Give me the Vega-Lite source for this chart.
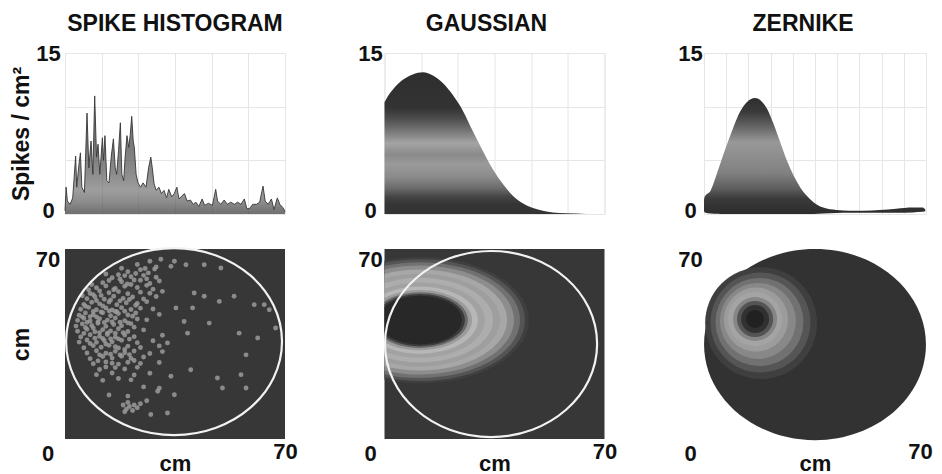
{
  "$schema": "https://vega.github.io/schema/vega-lite/v6.json",
  "padding": {"left": 10, "top": 12, "right": 8, "bottom": 0},
  "background": "white",
  "columns": 3,
  "spacing": {"row": 35, "column": 99.5},
  "bounds": "flush",
  "resolve": {"scale": {"size": "shared", "color": "shared"}},
  "datasets": {
    "spike_profile": [
      {"x":0,"v":0.3},{"x":0.3,"v":2.5},{"x":0.65,"v":1.2},{"x":1.4,"v":0.9},{"x":2.1,"v":1.5},{"x":2.9,"v":5.4},{"x":3.2,"v":2.5},{"x":3.8,"v":4.6},{"x":4.2,"v":5.7},{"x":4.6,"v":2.5},{"x":5.3,"v":2.0},{"x":6.0,"v":9.4},{"x":6.5,"v":4.3},{"x":7.1,"v":6.8},{"x":7.6,"v":3.7},{"x":8.1,"v":11.0},{"x":8.6,"v":5.3},{"x":9.0,"v":6.5},{"x":9.5,"v":3.7},{"x":10.2,"v":7.1},{"x":10.5,"v":5.0},{"x":10.9,"v":7.3},{"x":11.4,"v":3.1},{"x":12.0,"v":2.9},{"x":12.6,"v":5.3},{"x":13.2,"v":7.0},{"x":13.7,"v":4.3},{"x":14.1,"v":3.7},{"x":14.6,"v":5.9},{"x":15.1,"v":8.5},{"x":15.5,"v":3.7},{"x":16.0,"v":3.1},{"x":16.4,"v":5.3},{"x":16.9,"v":7.3},{"x":17.4,"v":6.2},{"x":17.8,"v":7.4},{"x":18.2,"v":9.1},{"x":18.6,"v":6.8},{"x":18.9,"v":6.2},{"x":19.4,"v":3.7},{"x":19.9,"v":2.9},{"x":20.6,"v":2.5},{"x":21.3,"v":2.9},{"x":22.1,"v":2.5},{"x":22.8,"v":4.3},{"x":23.4,"v":5.3},{"x":23.8,"v":4.3},{"x":24.3,"v":2.8},{"x":24.9,"v":2.2},{"x":25.6,"v":2.5},{"x":26.3,"v":1.9},{"x":27.0,"v":2.2},{"x":27.7,"v":1.5},{"x":28.3,"v":2.3},{"x":29.1,"v":1.6},{"x":29.8,"v":1.9},{"x":30.5,"v":2.5},{"x":31.1,"v":1.4},{"x":31.9,"v":1.7},{"x":32.6,"v":1.9},{"x":33.3,"v":1.2},{"x":34.2,"v":1.3},{"x":35.0,"v":0.9},{"x":35.7,"v":1.1},{"x":36.5,"v":0.7},{"x":37.4,"v":1.4},{"x":38.1,"v":0.8},{"x":39.1,"v":1.0},{"x":40.2,"v":0.8},{"x":41.1,"v":2.3},{"x":41.6,"v":1.2},{"x":42.5,"v":0.9},{"x":43.4,"v":1.3},{"x":44.3,"v":0.9},{"x":45.2,"v":1.1},{"x":46.2,"v":0.9},{"x":47.1,"v":1.1},{"x":48.0,"v":0.9},{"x":48.9,"v":1.4},{"x":49.6,"v":0.5},{"x":50.3,"v":0.5},{"x":51.2,"v":0.9},{"x":52.2,"v":0.9},{"x":53.1,"v":1.1},{"x":54.0,"v":2.6},{"x":54.6,"v":1.2},{"x":55.4,"v":0.9},{"x":56.3,"v":1.4},{"x":57.0,"v":0.4},{"x":57.9,"v":1.5},{"x":58.6,"v":0.9},{"x":59.4,"v":0.6},{"x":60,"v":0.25}
    ],
    "gauss_profile": [
      {"x":0,"v":10.4},{"x":0.45,"v":10.7},{"x":2.3,"v":11.6},{"x":5,"v":12.5},{"x":7.7,"v":13.0},{"x":10.5,"v":13.2},{"x":13.2,"v":12.9},{"x":15.9,"v":12.2},{"x":18.6,"v":11.1},{"x":21.4,"v":9.6},{"x":24.1,"v":7.7},{"x":26.8,"v":5.9},{"x":29.5,"v":4.2},{"x":32.3,"v":2.8},{"x":35,"v":1.7},{"x":37.7,"v":1.0},{"x":40.5,"v":0.56},{"x":43.2,"v":0.3},{"x":45.9,"v":0.15},{"x":49.5,"v":0.06},{"x":55,"v":0.01},{"x":60,"v":0}
    ],
    "zern_profile": [
      {"x":0,"v":1.3,"lo":0.3},{"x":0.3,"v":1.6,"lo":0.15},{"x":3,"v":2.2,"lo":0.05},{"x":6,"v":3.9,"lo":0.03},{"x":9,"v":5.7,"lo":0},{"x":12,"v":7.4,"lo":0},{"x":15,"v":9.0,"lo":0},{"x":18,"v":10.1,"lo":0},{"x":21,"v":10.7,"lo":0},{"x":23,"v":10.8,"lo":0},{"x":25.4,"v":10.6,"lo":0},{"x":28.4,"v":9.8,"lo":0},{"x":31.3,"v":8.4,"lo":0},{"x":34.3,"v":6.7,"lo":0},{"x":37.3,"v":5.0,"lo":0},{"x":40.3,"v":3.6,"lo":0},{"x":43.3,"v":2.5,"lo":0},{"x":46.3,"v":1.7,"lo":0},{"x":49.3,"v":1.1,"lo":0},{"x":53.7,"v":0.6,"lo":0.05},{"x":59.7,"v":0.37,"lo":0.1},{"x":65.7,"v":0.3,"lo":0.12},{"x":71.6,"v":0.3,"lo":0.12},{"x":79.1,"v":0.37,"lo":0.12},{"x":86.6,"v":0.5,"lo":0.12},{"x":94,"v":0.6,"lo":0.15},{"x":98.5,"v":0.6,"lo":0.2},{"x":99.7,"v":0.4,"lo":0.25}
    ],
    "spike_dots": [
      {"x":23,"y":64.3},{"x":27,"y":65.5},{"x":29,"y":63.4},{"x":30.5,"y":66.2},{"x":25.5,"y":62.8},
      {"x":20,"y":61.6},{"x":24,"y":62.4},{"x":26.5,"y":61.2},{"x":28.5,"y":62.6},{"x":18,"y":62.9},
      {"x":15,"y":59.4},{"x":17,"y":60.5},{"x":21,"y":59.8},{"x":25,"y":60.3},{"x":29,"y":59.6},{"x":13,"y":60.8},
      {"x":12,"y":57.6},{"x":14,"y":58.4},{"x":18,"y":57.9},{"x":22,"y":58.6},{"x":27,"y":57.3},{"x":30,"y":58.2},{"x":19.8,"y":57.1},
      {"x":10,"y":55.7},{"x":13,"y":56.4},{"x":16,"y":55.5},{"x":19,"y":56.3},{"x":23,"y":55.8},{"x":26,"y":56.6},{"x":28,"y":55.2},{"x":8.5,"y":56.9},
      {"x":8,"y":53.6},{"x":11,"y":54.5},{"x":14,"y":53.9},{"x":17,"y":54.3},{"x":20,"y":53.5},{"x":24,"y":54.1},{"x":27,"y":53.7},{"x":31,"y":54.4},{"x":15.5,"y":55},
      {"x":7,"y":51.7},{"x":9.5,"y":52.4},{"x":12.5,"y":51.5},{"x":15.5,"y":52.6},{"x":18.5,"y":51.8},{"x":21.5,"y":52.3},{"x":25,"y":51.6},{"x":29,"y":52.5},{"x":5.5,"y":52.8},
      {"x":6,"y":49.6},{"x":8.5,"y":50.4},{"x":11,"y":49.8},{"x":14,"y":50.5},{"x":16.5,"y":49.5},{"x":19.5,"y":50.2},{"x":23,"y":49.9},{"x":26,"y":50.6},{"x":10,"y":51},
      {"x":5,"y":47.8},{"x":7.5,"y":48.5},{"x":10,"y":47.6},{"x":13,"y":48.3},{"x":15,"y":47.5},{"x":18,"y":48.4},{"x":21,"y":47.7},{"x":24,"y":48.2},{"x":28,"y":47.9},{"x":12,"y":49},
      {"x":4.5,"y":45.6},{"x":6.5,"y":46.4},{"x":9,"y":45.8},{"x":12,"y":46.5},{"x":14.5,"y":45.4},{"x":17,"y":46.2},{"x":20,"y":45.7},{"x":22.5,"y":46.4},{"x":30,"y":45.9},{"x":16,"y":47},
      {"x":4,"y":43.7},{"x":6,"y":44.5},{"x":8,"y":43.5},{"x":11,"y":44.3},{"x":13.5,"y":43.8},{"x":16,"y":44.6},{"x":19,"y":43.6},{"x":23,"y":44.2},{"x":26,"y":43.9},{"x":10,"y":45},
      {"x":3.5,"y":41.6},{"x":5.5,"y":42.4},{"x":8.5,"y":41.8},{"x":10.5,"y":42.6},{"x":13,"y":41.5},{"x":15.5,"y":42.2},{"x":18,"y":41.7},{"x":21,"y":42.5},{"x":7,"y":43},
      {"x":4,"y":39.7},{"x":7,"y":40.4},{"x":9.5,"y":39.5},{"x":12,"y":40.3},{"x":14.5,"y":39.8},{"x":17,"y":40.6},{"x":20,"y":39.6},{"x":25,"y":40.2},
      {"x":5,"y":37.6},{"x":8,"y":38.4},{"x":11,"y":37.8},{"x":13.5,"y":38.5},{"x":16,"y":37.5},{"x":19,"y":38.3},{"x":22,"y":37.7},{"x":31,"y":38.2},
      {"x":4.5,"y":35.7},{"x":7,"y":36.5},{"x":10,"y":35.6},{"x":12.5,"y":36.3},{"x":15,"y":35.8},{"x":18,"y":36.4},{"x":23,"y":35.5},{"x":28,"y":36.2},
      {"x":6,"y":33.6},{"x":9,"y":34.4},{"x":11.5,"y":33.8},{"x":14,"y":34.5},{"x":17,"y":33.5},{"x":20,"y":34.2},{"x":24,"y":33.7},{"x":30,"y":34.3},
      {"x":7,"y":31.7},{"x":10,"y":32.5},{"x":13,"y":31.6},{"x":16,"y":32.3},{"x":19,"y":31.8},{"x":22,"y":32.4},{"x":27,"y":31.5},{"x":31,"y":32.2},
      {"x":8,"y":29.6},{"x":12,"y":30.4},{"x":15,"y":29.8},{"x":18,"y":30.5},{"x":21,"y":29.7},{"x":25,"y":30.2},
      {"x":9,"y":27.7},{"x":13,"y":28.4},{"x":17,"y":27.6},{"x":20,"y":28.3},{"x":24,"y":27.8},{"x":30,"y":28.2},
      {"x":11,"y":25.6},{"x":16,"y":26.3},{"x":19,"y":25.8},{"x":23,"y":26.4},
      {"x":10,"y":23.7},{"x":15,"y":24.3},{"x":22,"y":23.6},{"x":27,"y":24.2},
      {"x":12,"y":21.6},{"x":17,"y":22.3},{"x":21,"y":21.8},
      {"x":25,"y":19.2},{"x":30,"y":18.7},{"x":14,"y":16.2},{"x":20,"y":15.8},{"x":26,"y":14.1},
      {"x":18.5,"y":12.5},{"x":19.5,"y":11},{"x":20.5,"y":12},{"x":21.5,"y":10.5},{"x":22,"y":12.5},{"x":23,"y":11.5},{"x":19,"y":10},{"x":24,"y":13},{"x":20,"y":13.5},
      {"x":7.5,"y":55},{"x":9,"y":53.2},{"x":11.5,"y":52.9},{"x":14.5,"y":51.2},{"x":17.5,"y":50.9},{"x":20.5,"y":51.4},{"x":22.5,"y":49.3},{"x":6.5,"y":48.9},{"x":9,"y":47},{"x":11.5,"y":46.8},{"x":14,"y":47.2},{"x":16.5,"y":46.9},{"x":19,"y":47.1},{"x":21.5,"y":45.2},{"x":5.5,"y":45},{"x":8,"y":45.1},{"x":10.5,"y":43.2},{"x":12.5,"y":42.9},{"x":15,"y":43.1},{"x":17.5,"y":43},{"x":20,"y":42.8},{"x":22,"y":41.2},{"x":6.5,"y":41.1},{"x":9,"y":40.9},{"x":11,"y":39.2},{"x":13.5,"y":39.1},{"x":16,"y":39},{"x":18.5,"y":39.2},{"x":6,"y":38.9},{"x":9.5,"y":37.1},{"x":12,"y":37},{"x":14.5,"y":36.9},{"x":17,"y":36.9},{"x":20.5,"y":36.8},{"x":8,"y":35.2},{"x":13,"y":35},{"x":16,"y":34},{"x":19,"y":33},{"x":11,"y":31},{"x":14.5,"y":31.2},{"x":17.5,"y":31},{"x":20.5,"y":31.1},{"x":10.5,"y":28.8},{"x":15,"y":27.9},{"x":22,"y":28.9},{"x":13,"y":26.5},{"x":24,"y":58.5},{"x":21,"y":56.9},{"x":17.5,"y":58.9},{"x":22.5,"y":61},{"x":26,"y":59},{"x":19,"y":60.2},
      {"x":34.8,"y":65.5},{"x":33.7,"y":63.6},{"x":38.5,"y":64.2},{"x":44.3,"y":64.2},{"x":49.6,"y":63},{"x":44.3,"y":52.6},{"x":35.3,"y":48.3},{"x":40.6,"y":48.3},{"x":49.1,"y":50.7},{"x":60.2,"y":49.5},{"x":63.4,"y":49.5},{"x":65,"y":47.6},{"x":37.9,"y":43.3},{"x":45.9,"y":42.7},{"x":55.4,"y":39},{"x":61.3,"y":37.2},{"x":67,"y":40.9},{"x":32.6,"y":35.4},{"x":39,"y":39},{"x":57.6,"y":31},{"x":40,"y":25.5},{"x":33.7,"y":23.1},{"x":48.5,"y":22.5},{"x":50.1,"y":18.8},{"x":56,"y":23.7},{"x":57.6,"y":18.8},{"x":29.5,"y":17.6},{"x":34.8,"y":16.3},{"x":41.1,"y":53.8},{"x":27.3,"y":9},{"x":32.6,"y":9.6},{"x":53.8,"y":52.6}
    ],
    "arena_left": [{"x":34.7,"y":35.9,"d":68.7}],
    "arena_mid": [{"x":33.9,"y":35.0,"d":67.5}],
    "arena_right": [{"x":35.0,"y":34.8,"d":70.6,"level":0.15}],
    "gauss_rings": [
      {"x":11.3,"y":43.8,"d":69.3,"level":0.23},
      {"x":11.3,"y":43.8,"d":66.8,"level":0.36},
      {"x":11.3,"y":43.8,"d":63.6,"level":0.53},
      {"x":11.3,"y":43.8,"d":59.8,"level":0.69},
      {"x":11.3,"y":43.8,"d":55.4,"level":0.83},
      {"x":11.3,"y":43.8,"d":50.9,"level":0.78},
      {"x":11.3,"y":43.8,"d":46.5,"level":0.86},
      {"x":11.3,"y":43.8,"d":41.4,"level":0.8},
      {"x":11.3,"y":43.8,"d":36.9,"level":0.91},
      {"x":11.3,"y":43.8,"d":33.1,"level":0.77},
      {"x":11.3,"y":43.8,"d":30.5,"level":0.49},
      {"x":11.3,"y":43.8,"d":28.6,"level":0.21},
      {"x":11.3,"y":43.8,"d":26.7,"level":0.08}
    ],
    "zern_rings": [
      {"x":18.0,"y":42.7,"d":35.6,"level":0.23},
      {"x":17.8,"y":42.9,"d":31.8,"level":0.37},
      {"x":17.5,"y":43.1,"d":28.0,"level":0.53},
      {"x":17.0,"y":43.5,"d":24.2,"level":0.66},
      {"x":16.4,"y":44.0,"d":20.4,"level":0.77},
      {"x":16.1,"y":44.2,"d":17.2,"level":0.81},
      {"x":16.1,"y":44.2,"d":14.0,"level":0.65},
      {"x":16.1,"y":44.2,"d":11.5,"level":0.36},
      {"x":16.1,"y":44.2,"d":8.9,"level":0.14},
      {"x":16.1,"y":44.2,"d":5.7,"level":0.035}
    ]
  },
  "config": {
    "font": "Liberation Sans",
    "view": {"stroke": null},
    "title": {"font": "Liberation Sans", "fontSize": 23, "fontWeight": "bold", "color": "#111", "offset": 6, "anchor": "middle"},
    "axis": {
      "labelFont": "Liberation Sans", "labelFontSize": 22, "labelFontWeight": "bold", "labelColor": "#111",
      "titleFont": "Liberation Sans", "titleFontSize": 23, "titleFontWeight": "bold", "titleColor": "#111",
      "ticks": false, "tickSize": 0, "domain": false, "grid": false, "gridColor": "#e6e6e6", "labelFlush": false, "labelOverlap": false
    }
  },
  "concat": [
    {
      "width": 220, "height": 161,
      "title": {"text": "SPIKE HISTOGRAM"},
      "view": {"stroke": "#e6e6e6"},
      "data": {"name": "spike_profile"},
      "mark": {"type": "area", "line": {"color": "#363636", "strokeWidth": 0.9},
        "color": {"gradient": "linear", "x1": 0, "y1": 0, "x2": 0, "y2": 1, "stops": [
          {"offset": 0, "color": "#353535"}, {"offset": 0.45, "color": "#444444"}, {"offset": 0.65, "color": "#5a5a5a"},
          {"offset": 0.8, "color": "#747474"}, {"offset": 0.9, "color": "#5a5a5a"}, {"offset": 0.96, "color": "#404040"}, {"offset": 1, "color": "#333333"}]}},
      "encoding": {
        "x": {"field": "x", "type": "quantitative", "scale": {"domain": [0, 60], "nice": false, "zero": false},
          "axis": {"values": [0, 10, 20, 30, 40, 50, 60], "grid": true, "labels": false, "title": null}},
        "y": {"field": "v", "type": "quantitative", "scale": {"domain": [0, 15], "nice": false},
          "axis": {"values": [0, 5, 10, 15], "grid": true, "labelExpr": "datum.value == 0 || datum.value == 15 ? datum.label : ''",
            "labelAlign": "center", "labelPadding": 17, "labelOffset": {"condition": {"test": "datum.value == 0", "value": -4}, "value": 0},
            "title": "Spikes / cm²", "titlePadding": 2}}
      }
    },
    {
      "width": 220, "height": 161,
      "title": {"text": "GAUSSIAN", "dx": -8},
      "view": {"stroke": "#e6e6e6"},
      "data": {"name": "gauss_profile"},
      "mark": {"type": "area", "interpolate": "monotone",
        "color": {"gradient": "linear", "x1": 0, "y1": 0, "x2": 0, "y2": 1, "stops": [
          {"offset": 0, "color": "#2e2e2e"}, {"offset": 0.25, "color": "#333333"}, {"offset": 0.32, "color": "#4a4a4a"},
          {"offset": 0.4, "color": "#707070"}, {"offset": 0.5, "color": "#a4a4a4"}, {"offset": 0.58, "color": "#8a8a8a"},
          {"offset": 0.65, "color": "#9a9a9a"}, {"offset": 0.74, "color": "#8a8a8a"}, {"offset": 0.82, "color": "#6a6a6a"},
          {"offset": 0.88, "color": "#444444"}, {"offset": 0.93, "color": "#353535"}, {"offset": 1, "color": "#333333"}]}},
      "encoding": {
        "x": {"field": "x", "type": "quantitative", "scale": {"domain": [0, 60], "nice": false, "zero": false},
          "axis": {"values": [0, 10, 20, 30, 40, 50, 60], "grid": true, "labels": false, "title": null}},
        "y": {"field": "v", "type": "quantitative", "scale": {"domain": [0, 15], "nice": false},
          "axis": {"values": [0, 5, 10, 15], "grid": true, "labelExpr": "datum.value == 0 || datum.value == 15 ? datum.label : ''",
            "labelAlign": "center", "labelPadding": 14.5, "labelOffset": {"condition": {"test": "datum.value == 0", "value": -4}, "value": 0},
            "title": null}}
      }
    },
    {
      "width": 222, "height": 161,
      "title": {"text": "ZERNIKE", "dx": -12},
      "view": {"stroke": "#e6e6e6"},
      "data": {"name": "zern_profile"},
      "mark": {"type": "area", "interpolate": "monotone",
        "color": {"gradient": "linear", "x1": 0, "y1": 0, "x2": 0, "y2": 1, "stops": [
          {"offset": 0, "color": "#2f2f2f"}, {"offset": 0.12, "color": "#3a3a3a"}, {"offset": 0.25, "color": "#666666"},
          {"offset": 0.38, "color": "#989898"}, {"offset": 0.5, "color": "#8e8e8e"}, {"offset": 0.65, "color": "#808080"},
          {"offset": 0.78, "color": "#5e5e5e"}, {"offset": 0.87, "color": "#3a3a3a"}, {"offset": 1, "color": "#2c2c2c"}]}},
      "encoding": {
        "x": {"field": "x", "type": "quantitative", "scale": {"domain": [0, 100], "nice": false, "zero": false},
          "axis": {"values": [0, 10, 20, 30, 40, 50, 60, 70, 80, 90, 100], "grid": true, "labels": false, "title": null}},
        "y": {"field": "v", "type": "quantitative", "scale": {"domain": [0, 15], "nice": false},
          "axis": {"values": [0, 5, 10, 15], "grid": true, "labelExpr": "datum.value == 0 || datum.value == 15 ? datum.label : ''",
            "labelAlign": "center", "labelPadding": 14, "labelOffset": {"condition": {"test": "datum.value == 0", "value": -4}, "value": 0},
            "title": null}},
        "y2": {"field": "lo"}
      }
    },
    {
      "width": 220, "height": 190,
      "view": {"fill": "#373737", "stroke": null},
      "layer": [
        {
          "data": {"name": "spike_dots"},
          "mark": {"type": "circle", "size": 24, "color": "#9a9a9a", "opacity": 0.85},
          "encoding": {
            "x": {"field": "x", "type": "quantitative", "scale": {"domain": [0, 70], "nice": false, "zero": false},
              "axis": {"values": [70], "labelPadding": 2, "title": "cm", "titlePadding": -9, "titleFontSize": 22}},
            "y": {"field": "y", "type": "quantitative", "scale": {"domain": [0, 70], "nice": false, "zero": false},
              "axis": {"values": [0, 70], "labelAlign": "center", "labelBaseline": "top", "labelPadding": 17.5,
                "labelOffset": {"condition": {"test": "datum.value == 0", "value": 4}, "value": 0},
                "title": "cm", "titlePadding": 2}}
          }
        },
        {
          "data": {"name": "arena_left"},
          "mark": {"type": "point", "shape": "M-1,0A1,0.866,0,1,1,1,0A1,0.866,0,1,1,-1,0Z", "filled": false, "stroke": "#f2f2f2", "strokeWidth": 2.2, "opacity": 1},
          "encoding": {
            "x": {"field": "x", "type": "quantitative"},
            "y": {"field": "y", "type": "quantitative"},
            "size": {"field": "d", "type": "quantitative", "scale": {"type": "pow", "exponent": 2, "domain": [0, 70], "range": [0, 48400]}, "legend": null}
          }
        }
      ]
    },
    {
      "width": 220, "height": 190,
      "view": {"fill": "#373737", "stroke": null},
      "layer": [
        {
          "data": {"name": "gauss_rings"},
          "mark": {"type": "point", "shape": "M-1,0A1,0.58,0,1,1,1,0A1,0.58,0,1,1,-1,0Z", "filled": true, "opacity": 1, "strokeWidth": 0, "clip": true},
          "encoding": {
            "x": {"field": "x", "type": "quantitative", "scale": {"domain": [0, 70], "nice": false, "zero": false},
              "axis": {"values": [70], "labelPadding": 2, "title": "cm", "titlePadding": -9, "titleFontSize": 22}},
            "y": {"field": "y", "type": "quantitative", "scale": {"domain": [0, 70], "nice": false, "zero": false},
              "axis": {"values": [0, 70], "labelAlign": "center", "labelBaseline": "top", "labelPadding": 14.5,
                "labelOffset": {"condition": {"test": "datum.value == 0", "value": 4}, "value": 0},
                "title": null}},
            "size": {"field": "d", "type": "quantitative", "scale": {"type": "pow", "exponent": 2, "domain": [0, 70], "range": [0, 48400]}, "legend": null},
            "color": {"field": "level", "type": "quantitative", "scale": {"domain": [0, 1], "range": ["#1c1c1c", "#c8c8c8"]}, "legend": null}
          }
        },
        {
          "data": {"name": "arena_mid"},
          "mark": {"type": "point", "shape": "M-1,0A1,0.877,0,1,1,1,0A1,0.877,0,1,1,-1,0Z", "filled": false, "stroke": "#f2f2f2", "strokeWidth": 2.2, "opacity": 1},
          "encoding": {
            "x": {"field": "x", "type": "quantitative"},
            "y": {"field": "y", "type": "quantitative"},
            "size": {"field": "d", "type": "quantitative", "scale": {"type": "pow", "exponent": 2, "domain": [0, 70], "range": [0, 48400]}, "legend": null}
          }
        }
      ]
    },
    {
      "width": 222, "height": 190,
      "view": {"stroke": null},
      "layer": [
        {
          "data": {"name": "arena_right"},
          "mark": {"type": "point", "shape": "M-1,0A1,0.862,0,1,1,1,0A1,0.862,0,1,1,-1,0Z", "filled": true, "opacity": 1, "strokeWidth": 0},
          "encoding": {
            "x": {"field": "x", "type": "quantitative", "scale": {"domain": [0, 70], "nice": false, "zero": false},
              "axis": {"values": [70], "labelPadding": 2, "labelOffset": -6, "title": "cm", "titlePadding": -9, "titleFontSize": 22}},
            "y": {"field": "y", "type": "quantitative", "scale": {"domain": [0, 70], "nice": false, "zero": false},
              "axis": {"values": [0, 70], "labelAlign": "center", "labelBaseline": "top", "labelPadding": 14,
                "labelOffset": {"condition": {"test": "datum.value == 0", "value": 4}, "value": 0},
                "title": null}},
            "size": {"field": "d", "type": "quantitative", "scale": {"type": "pow", "exponent": 2, "domain": [0, 70], "range": [0, 48400]}, "legend": null},
            "color": {"field": "level", "type": "quantitative", "scale": {"domain": [0, 1], "range": ["#1c1c1c", "#c8c8c8"]}, "legend": null}
          }
        },
        {
          "data": {"name": "zern_rings"},
          "mark": {"type": "point", "shape": "circle", "filled": true, "opacity": 1, "strokeWidth": 0},
          "encoding": {
            "x": {"field": "x", "type": "quantitative"},
            "y": {"field": "y", "type": "quantitative"},
            "size": {"field": "d", "type": "quantitative", "scale": {"type": "pow", "exponent": 2, "domain": [0, 70], "range": [0, 48400]}, "legend": null},
            "color": {"field": "level", "type": "quantitative", "scale": {"domain": [0, 1], "range": ["#1c1c1c", "#c8c8c8"]}, "legend": null}
          }
        }
      ]
    }
  ]
}
